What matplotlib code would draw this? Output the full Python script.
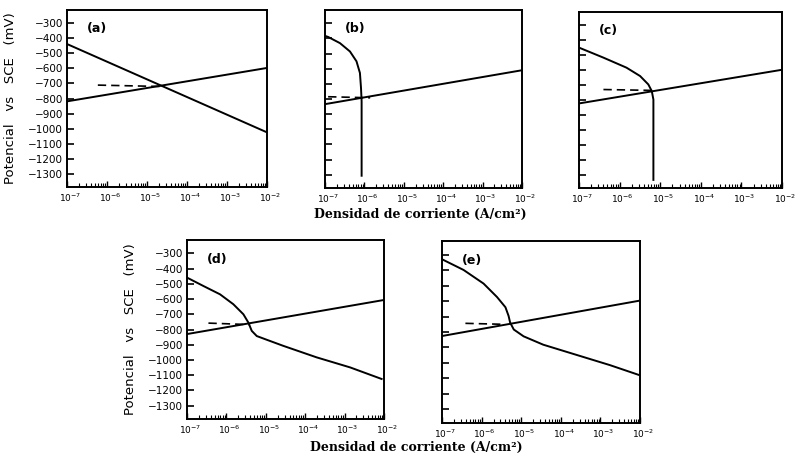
import matplotlib
matplotlib.use("Agg")
import matplotlib.pyplot as plt
import matplotlib.transforms as mtransforms
from matplotlib.ticker import LogLocator, NullFormatter, FixedLocator

# ---- data (i in A/cm2, E in mV vs SCE) ----
# (a)
a_anod_i = [1e-7, 1e-2]
a_anod_E = [-819, -597]
a_cath_i = [1e-7, 1e-2]
a_cath_E = [-438, -1025]
a_dash_i = [5.9e-7, 2.1e-5]
a_dash_E = [-711, -720]

# (b)
b_anod_i = [1e-7, 1e-2]
b_anod_E = [-834, -610]
b_cath_i = [1e-7, 1.2e-7, 2.4e-7, 4.3e-7, 6.3e-7, 7.7e-7, 8.2e-7, 8.5e-7, 8.5e-7]
b_cath_E = [-383, -390, -431, -486, -551, -628, -727, -814, -1307]
b_dash_i = [1.2e-7, 1.4e-6]
b_dash_E = [-785, -792]

# (c)
c_anod_i = [1e-7, 1e-2]
c_anod_E = [-823, -598]
c_cath_i = [1e-7, 4e-7, 1.48e-6, 3.2e-6, 5.1e-6, 6.2e-6, 6.8e-6, 6.8e-6]
c_cath_E = [-450, -517, -584, -640, -696, -740, -797, -1334]
c_dash_i = [4e-7, 6.5e-6]
c_dash_E = [-730, -736]

# (d)
d_anod_i = [1e-7, 1e-2]
d_anod_E = [-830, -606]
d_cath_i = [1e-7, 2.6e-7, 6.9e-7, 1.5e-6, 2.7e-6, 3.6e-6, 4.4e-6, 5.9e-6,
            9.5e-6, 2.75e-5, 1.95e-4, 1.38e-3, 8.7e-3]
d_cath_E = [-459, -514, -569, -634, -700, -754, -809, -843,
            -863, -907, -983, -1049, -1125]
d_dash_i = [3.5e-7, 4e-6]
d_dash_E = [-758, -768]

# (e)
e_anod_i = [1e-7, 1e-2]
e_anod_E = [-826, -597]
e_cath_i = [1e-7, 3.5e-7, 1.12e-6, 2.45e-6, 4e-6, 4.8e-6, 5.25e-6, 6.5e-6,
            1.15e-5, 3.6e-5, 2.5e-4, 1.74e-3, 1e-2]
e_cath_E = [-330, -399, -487, -574, -640, -696, -739, -784,
            -828, -882, -948, -1014, -1080]
e_dash_i = [3.9e-7, 3.2e-6]
e_dash_E = [-744, -750]

panel_names = ["(a)", "(b)", "(c)", "(d)", "(e)"]
ytick_vals = [-300, -400, -500, -600, -700, -800, -900, -1000, -1100, -1200, -1300]

panels = [
    (a_anod_i, a_anod_E, a_cath_i, a_cath_E, a_dash_i, a_dash_E),
    (b_anod_i, b_anod_E, b_cath_i, b_cath_E, b_dash_i, b_dash_E),
    (c_anod_i, c_anod_E, c_cath_i, c_cath_E, c_dash_i, c_dash_E),
    (d_anod_i, d_anod_E, d_cath_i, d_cath_E, d_dash_i, d_dash_E),
    (e_anod_i, e_anod_E, e_cath_i, e_cath_E, e_dash_i, e_dash_E),
]

# axes boxes in pixels: left, top, right, bottom
W, H = 796, 459
boxes = [(67, 10, 267, 187), (325, 10, 522, 188), (579, 12, 782, 188),
         (187, 240, 384, 419), (442, 241, 640, 423)]
with_ylabels = [True, False, False, True, False]

fig = plt.figure(figsize=(W / 100, H / 100), dpi=100)
shift = mtransforms.ScaledTranslation(3 / 100, 0, fig.dpi_scale_trans)

for k, (box, data) in enumerate(zip(boxes, panels)):
    l, t, r, b = box
    ax = fig.add_axes([l / W, 1 - b / H, (r - l) / W, (b - t) / H])
    ai, aE, ci, cE, di, dE = data
    ax.plot(ai, aE, color="black", lw=1.4)
    ax.plot(ci, cE, color="black", lw=1.4)
    ax.plot(di, dE, color="black", lw=1.2, dashes=(5, 3))

    ax.set_xscale("log")
    ax.set_xlim(1e-7, 1e-2)
    ax.set_ylim(-1388, -212)
    ax.xaxis.set_major_locator(LogLocator(base=10, numticks=10))
    ax.xaxis.set_minor_locator(LogLocator(base=10, subs=range(2, 10), numticks=20))
    ax.xaxis.set_minor_formatter(NullFormatter())
    ax.yaxis.set_major_locator(FixedLocator(ytick_vals))
    ax.tick_params(axis="x", which="major", direction="in", length=4.5, width=1,
                   labelsize=6.5, pad=3, top=False)
    ax.tick_params(axis="x", which="minor", direction="in", length=3, width=0.8, top=False)
    ax.tick_params(axis="y", which="major", direction="in", length=5, width=1.2,
                   labelsize=7.5, right=False, pad=3, labelleft=with_ylabels[k])
    for lab in ax.get_xticklabels():
        lab.set_transform(lab.get_transform() + shift)
    for s in ax.spines.values():
        s.set_linewidth(1.4)

    ax.text(0.1, 0.93, panel_names[k], transform=ax.transAxes, fontsize=9,
            fontweight="bold", ha="left", va="top")

    if with_ylabels[k]:
        ax.set_ylabel("Potencial   vs   SCE   (mV)", fontsize=9.5, labelpad=8)

fig.text(420 / W, 1 - 214 / H, "Densidad de corriente (A/cm²)", family="DejaVu Serif",
         fontweight="bold", fontsize=9, ha="center", va="center")
fig.text(416 / W, 1 - 447 / H, "Densidad de corriente (A/cm²)", family="DejaVu Serif",
         fontweight="bold", fontsize=9, ha="center", va="center")

fig.savefig("out.png", dpi=100, facecolor="white")
